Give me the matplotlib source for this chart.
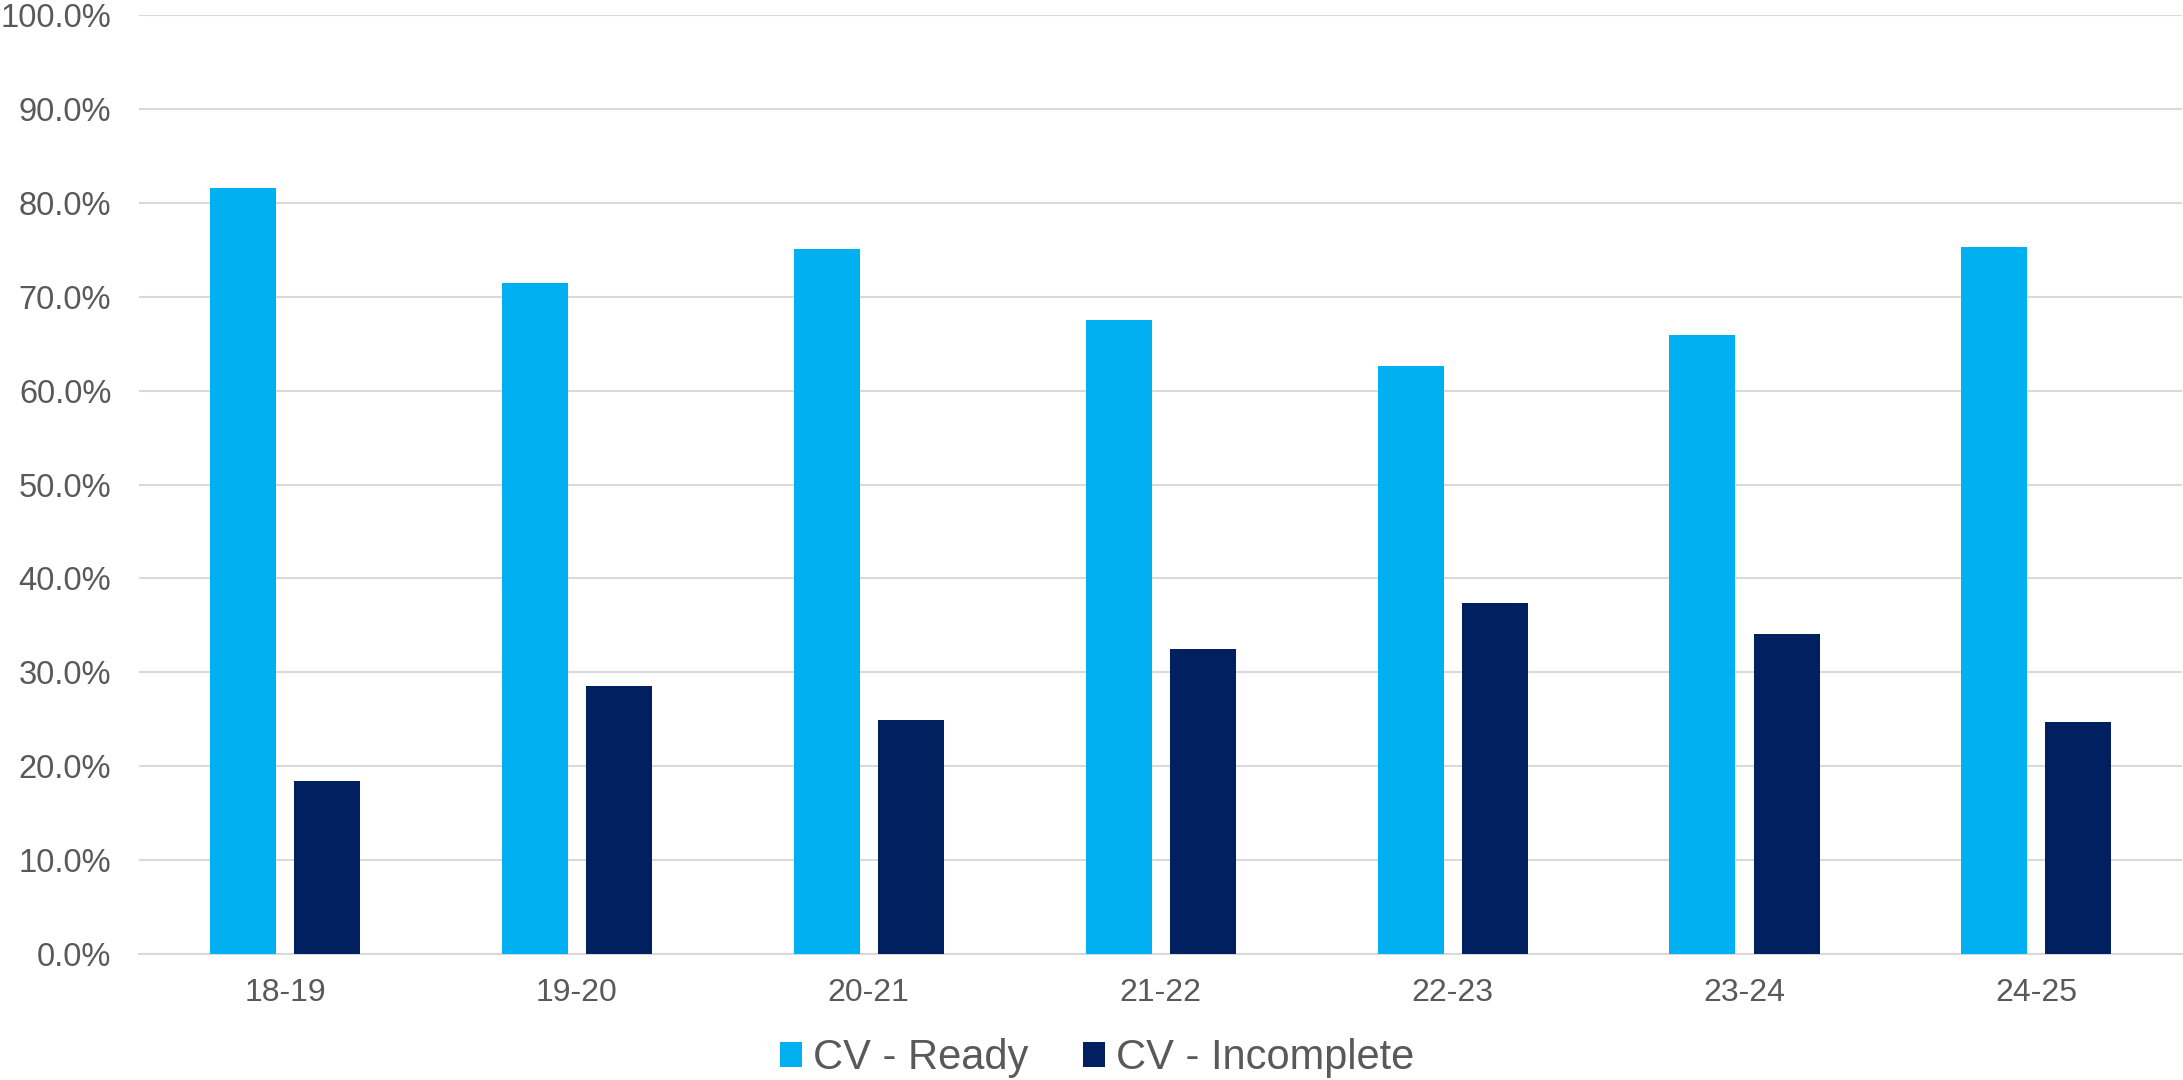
import matplotlib.pyplot as plt
import numpy as np
from matplotlib.ticker import FuncFormatter, MultipleLocator

plt.rcParams['font.family'] = ['Liberation Sans', 'DejaVu Sans']

years = ["18-19", "19-20", "20-21", "21-22", "22-23", "23-24", "24-25"]
cv_ready = [81.6, 71.5, 75.1, 67.5, 62.6, 65.9, 75.3]
cv_incomplete = [18.4, 28.5, 24.9, 32.5, 37.4, 34.1, 24.7]

ready_col = "#00B0F0"
incomplete_col = "#002060"
text_col = "#595959"

fig = plt.figure(figsize=(21.83, 10.80), dpi=100)
ax = fig.add_axes([0.0637, 0.1167, 0.936, 0.8693])

x = np.arange(len(years))
w = 0.226
off = 0.144
ax.bar(x - off, cv_ready, w, color=ready_col, label="CV - Ready", zorder=3)
ax.bar(x + off, cv_incomplete, w, color=incomplete_col, label="CV - Incomplete", zorder=3)

ax.set_xlim(-0.5, len(years) - 0.5)
ax.set_ylim(0, 100)
ax.yaxis.set_major_locator(MultipleLocator(10))
ax.yaxis.set_major_formatter(FuncFormatter(lambda v, p: f"{v:.1f}%"))
ax.set_xticks(x)
ax.set_xticklabels(years)

ax.grid(axis="y", color="#d9d9d9", linewidth=1.5, zorder=0)
ax.set_axisbelow(True)
for s in ["top", "right", "left"]:
    ax.spines[s].set_visible(False)
ax.spines["bottom"].set_color("#d9d9d9")
ax.spines["bottom"].set_linewidth(1.5)

ax.tick_params(axis="y", length=0, pad=20, labelsize=23.5, labelcolor=text_col)
ax.tick_params(axis="x", length=0, pad=17, labelsize=23, labelcolor=text_col)

leg = fig.legend(loc="center", bbox_to_anchor=(0.5025, 0.02), ncol=2, frameon=False,
                 fontsize=30, labelcolor=text_col, handlelength=0.53, handleheight=0.53,
                 handletextpad=0.26, columnspacing=1.32)

fig.savefig("out.png", dpi=100)
